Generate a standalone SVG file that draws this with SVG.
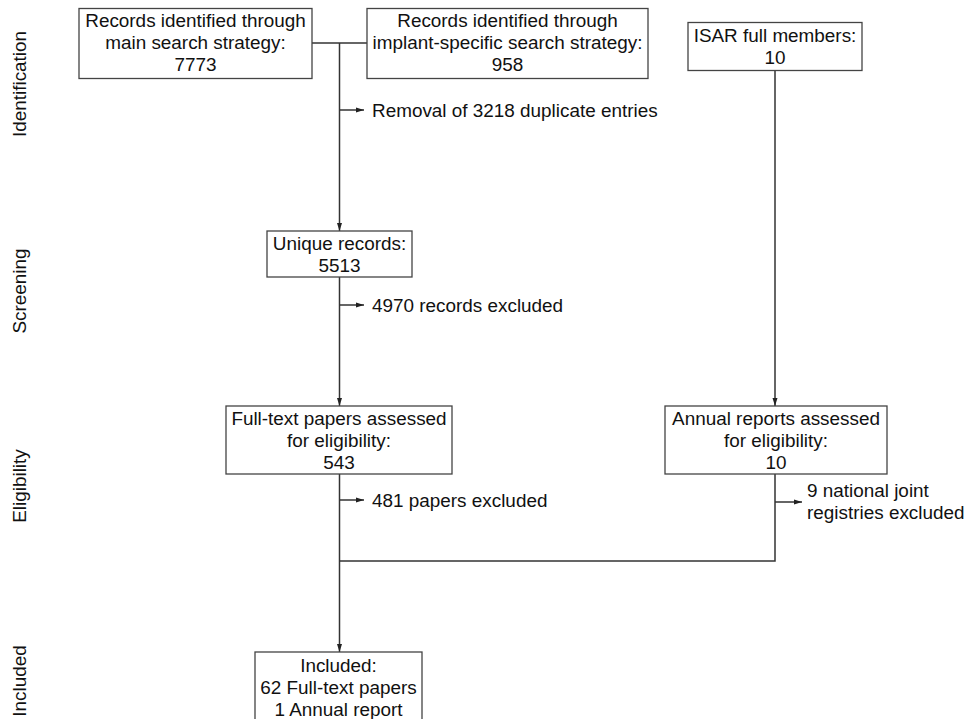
<svg xmlns="http://www.w3.org/2000/svg" width="967" height="719" viewBox="0 0 967 719">
<style>
text{font-family:"Liberation Sans",Arial,sans-serif;font-size:18.9px;fill:#111}
.c{text-anchor:middle}
.box{fill:#fff;stroke:#444;stroke-width:1.3}
.ln{fill:none;stroke:#333;stroke-width:1.5}
</style>
<defs>
<marker id="ah" viewBox="0 0 8 6" refX="8" refY="3" markerWidth="8" markerHeight="6" markerUnits="userSpaceOnUse" orient="auto">
<path d="M0,0.5 L8,3 L0,5.5 z" fill="#222"/>
</marker>
</defs>
<rect width="967" height="719" fill="#fff"/>
<g id="phases">
<text class="c" transform="translate(26,84) rotate(-90)">Identification</text>
<text class="c" transform="translate(26,291) rotate(-90)">Screening</text>
<text class="c" transform="translate(26,486) rotate(-90)">Eligibility</text>
<text class="c" transform="translate(26,681) rotate(-90)">Included</text>
</g>
<g id="connectors">
<path class="ln" d="M312,43 H367"/>
<path class="ln" d="M339.5,43 V231" marker-end="url(#ah)"/>
<path class="ln" d="M339.5,110 H364" marker-end="url(#ah)"/>
<path class="ln" d="M339.5,277 V406" marker-end="url(#ah)"/>
<path class="ln" d="M339.5,305 H364" marker-end="url(#ah)"/>
<path class="ln" d="M339.5,474 V652" marker-end="url(#ah)"/>
<path class="ln" d="M339.5,500 H364" marker-end="url(#ah)"/>
<path class="ln" d="M775,71 V406" marker-end="url(#ah)"/>
<path class="ln" d="M775,474 V561 H339.5"/>
<path class="ln" d="M775,502 H802" marker-end="url(#ah)"/>
</g>
<g id="main-search">
<rect class="box" x="79" y="8.5" width="233" height="70"/>
<text class="c" x="195.5" y="27">Records identified through</text>
<text class="c" x="195.5" y="49">main search strategy:</text>
<text class="c" x="195.5" y="71">7773</text>
</g>
<g id="implant-search">
<rect class="box" x="367" y="8.5" width="281" height="70"/>
<text class="c" x="507.5" y="27">Records identified through</text>
<text class="c" x="507.5" y="49">implant-specific search strategy:</text>
<text class="c" x="507.5" y="71">958</text>
</g>
<g id="isar">
<rect class="box" x="688" y="22.5" width="174" height="48"/>
<text class="c" x="775" y="42">ISAR full members:</text>
<text class="c" x="775" y="64">10</text>
</g>
<g id="removal">
<text x="372" y="117">Removal of 3218 duplicate entries</text>
</g>
<g id="unique">
<rect class="box" x="267" y="231" width="145" height="46"/>
<text class="c" x="339.5" y="250">Unique records:</text>
<text class="c" x="339.5" y="272">5513</text>
</g>
<g id="excl-records">
<text x="372" y="312">4970 records excluded</text>
</g>
<g id="fulltext">
<rect class="box" x="226" y="406" width="226" height="68"/>
<text class="c" x="339" y="425">Full-text papers assessed</text>
<text class="c" x="339" y="447">for eligibility:</text>
<text class="c" x="339" y="469">543</text>
</g>
<g id="annual">
<rect class="box" x="665" y="406" width="222" height="68"/>
<text class="c" x="776" y="425">Annual reports assessed</text>
<text class="c" x="776" y="447">for eligibility:</text>
<text class="c" x="776" y="469">10</text>
</g>
<g id="excl-papers">
<text x="372" y="507">481 papers excluded</text>
</g>
<g id="excl-registries">
<text x="807" y="497">9 national joint</text>
<text x="807" y="519">registries excluded</text>
</g>
<g id="included">
<rect class="box" x="255" y="652" width="167" height="80"/>
<text class="c" x="338.5" y="672">Included:</text>
<text class="c" x="338.5" y="694">62 Full-text papers</text>
<text class="c" x="338.5" y="716">1 Annual report</text>
</g>
</svg>
